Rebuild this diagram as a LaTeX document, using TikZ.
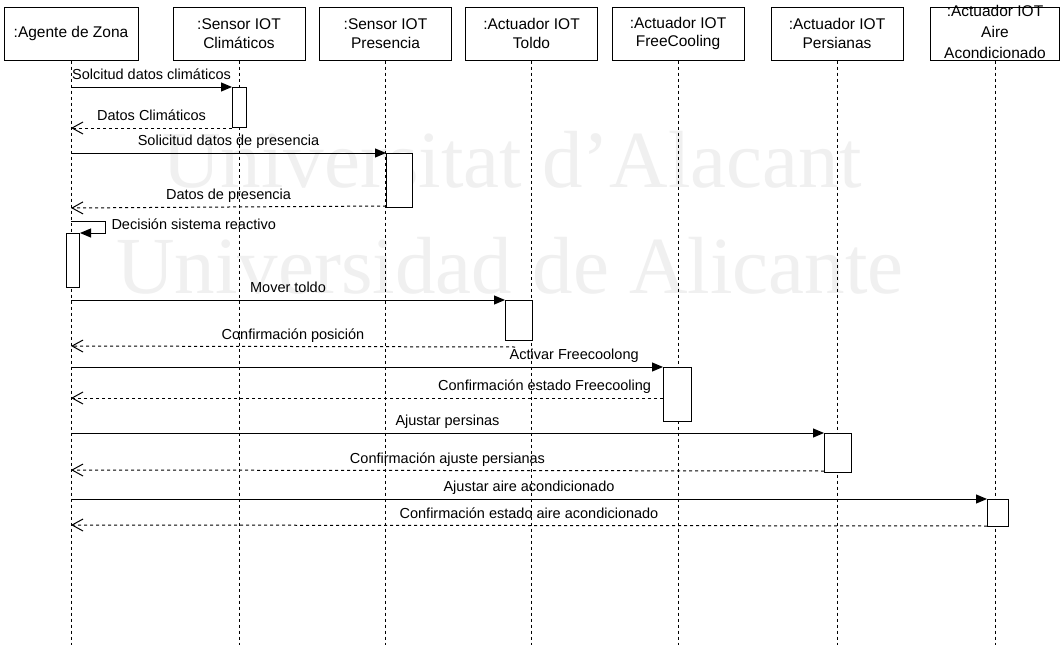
\documentclass[tikz,border=0pt]{standalone}
\usepackage{fontspec}
\setmainfont{Liberation Sans}
\newfontfamily\wmfont{Liberation Serif}
\usetikzlibrary{arrows.meta}

\begin{document}
\begin{tikzpicture}[x=1pt, y=-1pt, line width=1pt,
    head/.style={draw, minimum width=132pt, minimum height=53pt, inner sep=0pt,
                 align=center, font=\fontsize{15.5}{18.5}\selectfont},
    lifeline/.style={dash pattern=on 3pt off 3pt},
    act/.style={draw, fill=white, anchor=north west, inner sep=0pt},
    call/.style={-{Triangle[length=11pt,width=9pt]}},
    reply/.style={dash pattern=on 3pt off 3pt, -{Straight Barb[length=11pt,width=12pt]}},
    msgtext/.style={inner sep=0pt, text height=10pt, text depth=3pt,
                    font=\fontsize{14.5}{17}\selectfont},
    wm/.style={anchor=base, text=black!6, font=\wmfont\fontsize{81}{90}\selectfont}]
    \path[use as bounding box, fill=white] (0,0) rectangle (1061,645);

    \node[wm] (wmva) at (512,187) {Universitat d’Alacant};
    \node[wm] (wmes) at (510,293) {Universidad de Alicante};

    \node[head, minimum width=134pt] (agente) at (71,33.5) {:Agente de Zona};
    \node[head] (climaticos)  at (239,33.5)   {:Sensor IOT\\Climáticos};
    \node[head] (presencia)   at (385.5,33.5) {:Sensor IOT\\Presencia};
    \node[head] (toldo)       at (531.5,33.5) {:Actuador IOT\\Toldo};
    \node[head] (freecooling) at (678,33.5)   {:Actuador IOT\\FreeCooling};
    \node[head] (persianas)   at (837,33.5)   {:Actuador IOT\\Persianas};
    \node[head, minimum width=129pt] (aire) at (995,33.5) {};
    \node[align=center, inner sep=0pt, font=\fontsize{15.5}{21}\selectfont]
        (airetext) at ([yshift=2pt]aire.center) {:Actuador IOT\\Aire\\Acondicionado};

    \coordinate (bottom) at (0,645);
    \draw[lifeline] (agente.south) -- (agente |- bottom)
                    (climaticos.south) -- (climaticos |- bottom)
                    (presencia.south) -- (presencia |- bottom)
                    (toldo.south) -- (toldo |- bottom)
                    (freecooling.south) -- (freecooling |- bottom)
                    (persianas.south) -- (persianas |- bottom)
                    (aire.south) -- (aire |- bottom);

    \node[act, minimum width=14pt, minimum height=40pt] (actclim)  at (232,87)  {};
    \node[act, minimum width=26pt, minimum height=54pt] (actpres)  at (386,153) {};
    \node[act, minimum width=13pt, minimum height=54pt] (actdec)   at (66,233)  {};
    \node[act, minimum width=27pt, minimum height=40pt] (acttoldo) at (505,300) {};
    \node[act, minimum width=28pt, minimum height=54pt] (actfree)  at (663,367) {};
    \node[act, minimum width=27pt, minimum height=39pt] (actpers)  at (824,433) {};
    \node[act, minimum width=21pt, minimum height=27pt] (actaire)  at (987,499) {};

    \draw[call] (agente |- actclim.north west) -- (actclim.north west)
        node[msgtext, midway, above=4pt] {Solcitud datos climáticos};
    \draw[reply] (actclim.south west) -- (agente |- actclim.south west)
        node[msgtext, midway, above=4pt] {Datos Climáticos};

    \draw[call] (agente |- actpres.north west) -- (actpres.north west)
        node[msgtext, midway, above=4pt] {Solicitud datos de presencia};
    \draw[reply] ([yshift=2pt]actpres.south west) -- (agente |- actpres.south west)
        node[msgtext, midway, above=4pt] {Datos de presencia};

    \coordinate (decide) at (agente |- 0,221);
    \draw[call] (decide) -- ++(34,0)
        node[msgtext, anchor=west, xshift=6pt, yshift=-5pt] {Decisión sistema reactivo}
        |- (actdec.north east);

    \draw[call] (agente |- acttoldo.north west) -- (acttoldo.north west)
        node[msgtext, midway, above=4pt] {Mover toldo};
    \draw[reply] ([xshift=10pt,yshift=-6pt]acttoldo.south west) -- (agente |- 0,346)
        node[msgtext, midway, above=4pt] {Confirmación posición};

    \draw[call] (agente |- actfree.north west) -- (actfree.north west)
        node[msgtext, pos=.85, above=4pt] {Activar Freecoolong};
    \draw[reply] ([yshift=-31pt]actfree.north west) -- (agente |- 0,398)
        node[msgtext, pos=.2, above=4pt] {Confirmación estado Freecooling};

    \draw[call] (agente |- actpers.north west) -- (actpers.north west)
        node[msgtext, midway, above=4pt] {Ajustar persinas};
    \draw[reply] ([yshift=2pt]actpers.south west) -- (agente |- 0,470)
        node[msgtext, midway, above=4pt] {Confirmación ajuste persianas};

    \draw[call] (agente |- actaire.north west) -- (actaire.north west)
        node[msgtext, midway, above=4pt] {Ajustar aire acondicionado};
    \draw[reply] ([yshift=1pt]actaire.south west) -- (agente |- 0,525)
        node[msgtext, midway, above=4pt] {Confirmación estado aire acondicionado};
\end{tikzpicture}
\end{document}
